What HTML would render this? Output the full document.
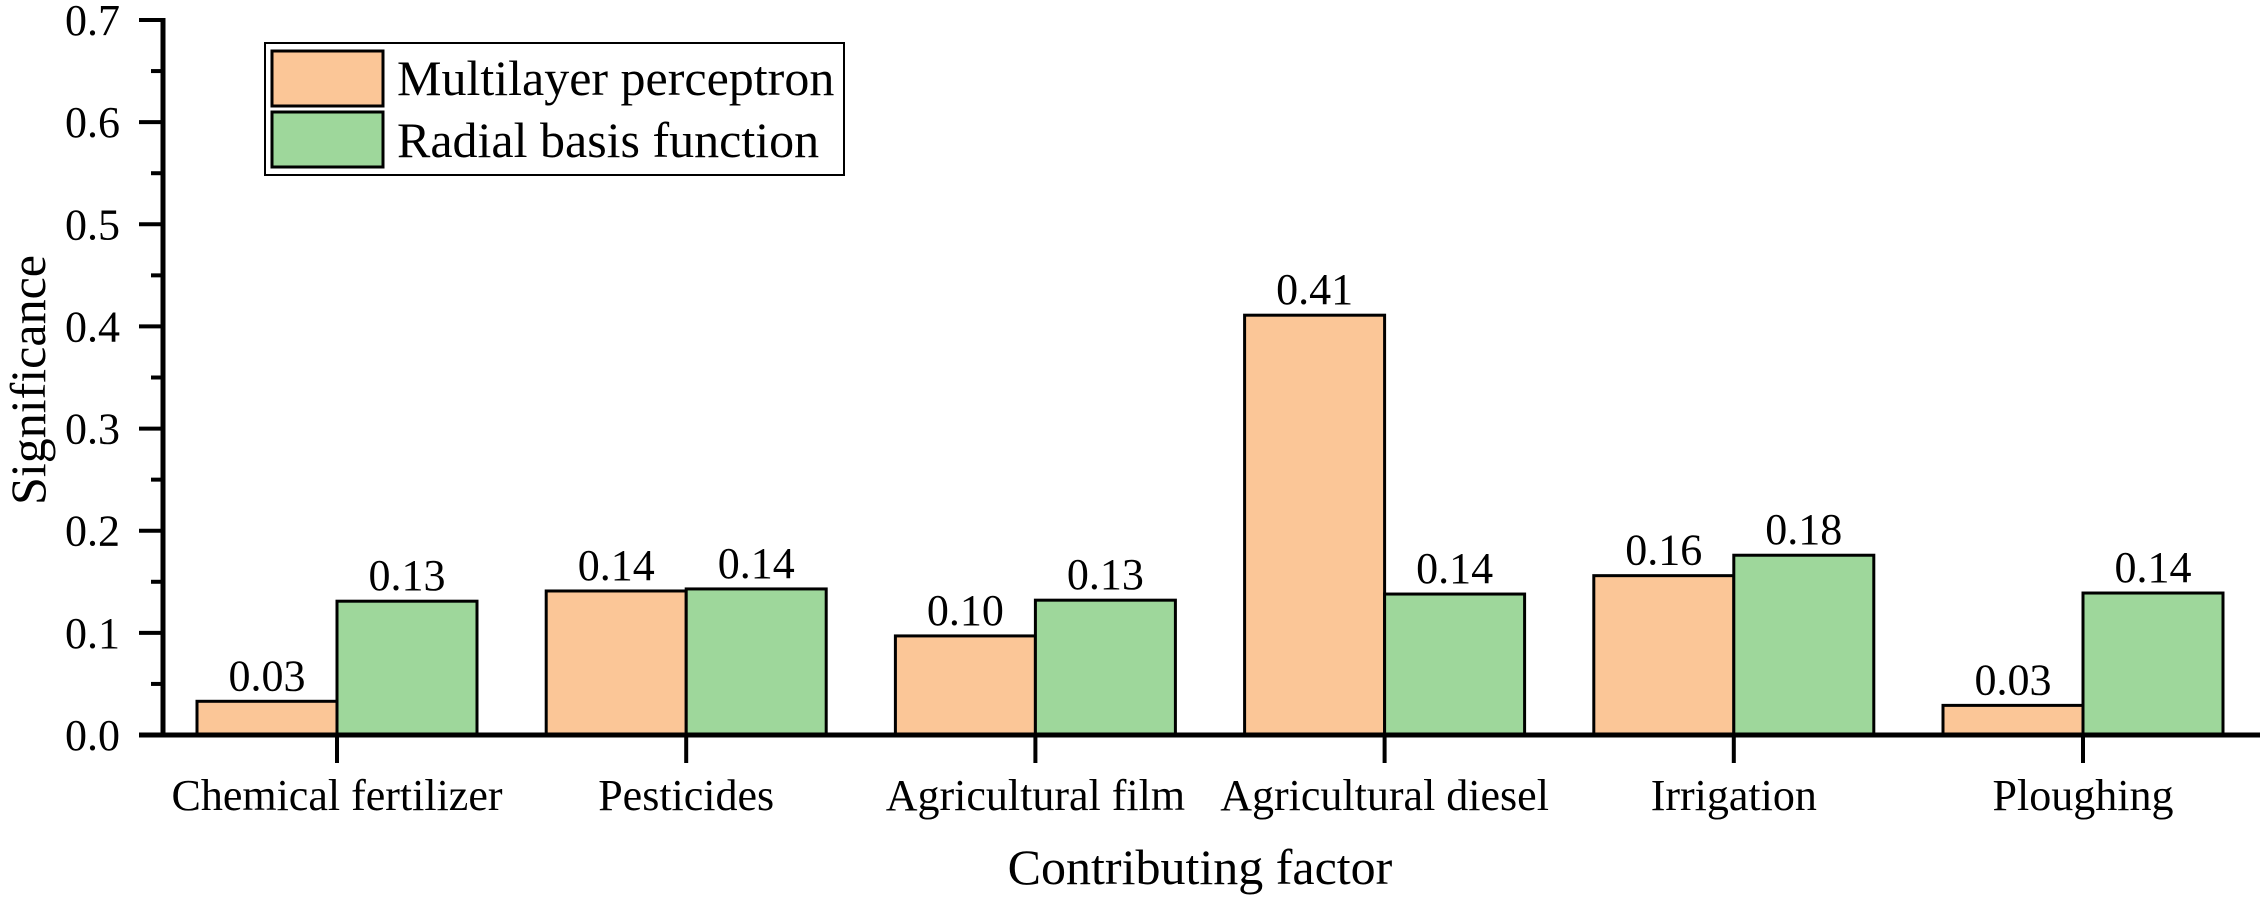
<!DOCTYPE html>
<html><head><meta charset="utf-8"><style>
html,body{margin:0;padding:0;background:#fff;}
svg{display:block;}
svg text{font-family:"Liberation Serif","DejaVu Serif",serif !important;}
</style></head><body>
<svg id="chart" width="2265" height="907" viewBox="0 0 2265 907" xmlns="http://www.w3.org/2000/svg" font-family="Liberation Serif, serif">
<g id="bars"></g>
<g id="labels"></g>
<g id="axes"></g>
<text x="28" y="380" font-size="50" text-anchor="middle" dominant-baseline="central" transform="rotate(-90 28 380)">Significance</text>
<text x="1200" y="884" font-size="50" text-anchor="middle">Contributing factor</text>
<g>
<rect x="265" y="43" width="579" height="132" fill="#fff" stroke="#000" stroke-width="2"/>
<rect x="272" y="51" width="111" height="55" fill="#fbc697" stroke="#000" stroke-width="3"/>
<text x="397" y="95" font-size="50">Multilayer perceptron</text>
<rect x="272" y="112" width="111" height="55" fill="#9ed79b" stroke="#000" stroke-width="3"/>
<text x="397" y="157" font-size="50">Radial basis function</text>
</g>
</svg>
<script>
const categories = ["Chemical fertilizer","Pesticides","Agricultural film","Agricultural diesel","Irrigation","Ploughing"];
const mlpValues = [0.033,0.141,0.097,0.411,0.156,0.029];
const rbfValues = [0.131,0.143,0.132,0.138,0.176,0.139];
const mlpLabels = ["0.03","0.14","0.10","0.41","0.16","0.03"];
const rbfLabels = ["0.13","0.14","0.13","0.14","0.18","0.14"];
const yTicks = ["0.0","0.1","0.2","0.3","0.4","0.5","0.6","0.7"];

const NS="http://www.w3.org/2000/svg";
const x0=163, xEnd=2260, y0=735, yTop=20, yMax=0.7;
const firstCat=337, catStep=349.2, barW=140;
function yScale(v){return y0-(v/yMax)*(y0-yTop);}
function xScale(i){return firstCat+i*catStep;}
function mk(tag,attrs,parent){const e=document.createElementNS(NS,tag);for(const k in attrs)e.setAttribute(k,attrs[k]);parent.appendChild(e);return e;}
const bars=document.getElementById('bars'), labels=document.getElementById('labels'), axes=document.getElementById('axes');

categories.forEach((c,i)=>{
  const cx=xScale(i);
  [[mlpValues,mlpLabels,'#fbc697',cx-barW,'mlp'],[rbfValues,rbfLabels,'#9ed79b',cx,'rbf']].forEach(s=>{
    const v=s[0][i], top=yScale(v);
    const r=mk('rect',{x:s[3],y:top,width:barW,height:y0-top,fill:s[2],stroke:'#000','stroke-width':3},bars);
    
    
    const t=mk('text',{x:s[3]+barW/2,y:top-11,'font-size':44,'text-anchor':'middle'},labels);
    t.textContent=s[1][i];
    
    
  });
  const tk=mk('line',{x1:cx,x2:cx,y1:y0,y2:y0+28,stroke:'#000','stroke-width':4},axes);
  
  
  const lt=mk('text',{x:cx,y:810,'font-size':44,'text-anchor':'middle'},axes);
  lt.textContent=c;
  
  
});

yTicks.forEach((lab,i)=>{
  const v=i*0.1, y=yScale(v);
  const l=mk('line',{x1:x0-24,x2:x0,y1:y,y2:y,stroke:'#000','stroke-width':4},axes);
  
  
  const t=mk('text',{x:120,y:y+15,'font-size':44,'text-anchor':'end'},axes);
  t.textContent=lab;
  
  
  if(i<yTicks.length-1){
    const ym=yScale(v+0.05);
    const m=mk('line',{x1:x0-12,x2:x0,y1:ym,y2:ym,stroke:'#000','stroke-width':4},axes);
    
    
  }
});
const ya=mk('line',{x1:x0,x2:x0,y1:yTop-2,y2:y0+2,stroke:'#000','stroke-width':5},axes);


const xa=mk('line',{x1:x0-24,x2:xEnd,y1:y0,y2:y0,stroke:'#000','stroke-width':5},axes);


</script>
</body></html>
